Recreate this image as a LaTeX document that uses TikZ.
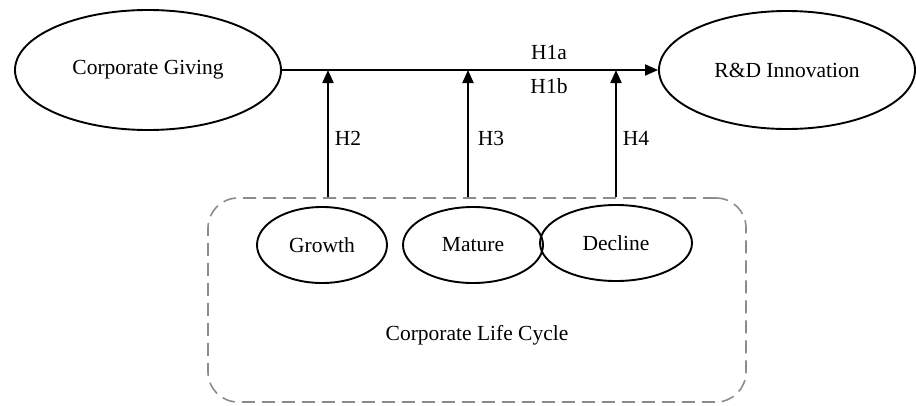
\documentclass[tikz,border=0pt]{standalone}
\usepackage{fontspec}
\setmainfont{Liberation Serif}
\usetikzlibrary{shapes.geometric,arrows.meta}
\begin{document}
\begin{tikzpicture}[x=1pt,y=-1pt,
  every node/.style={font=\fontsize{21.5}{25}\selectfont},
  oval/.style={ellipse,draw,line width=1.9pt,inner sep=0pt},
  arr/.style={line width=1.9pt,-{Triangle[length=13pt,width=11pt]}},
  lbl/.style={inner sep=0pt}]
\useasboundingbox (0,0) rectangle (916,405);
\node[oval,minimum width=266pt,minimum height=120pt] (cg) at (148,70) {Corporate Giving};
\node[oval,minimum width=256pt,minimum height=118pt] (rd) at (787,70) {R\&D Innovation};
\node[draw=black!45,line width=1.6pt,dash pattern=on 13pt off 7pt,rounded corners=30pt,
  minimum width=538pt,minimum height=204pt,inner sep=0pt] (box) at (477,300) {};
\node[oval,minimum width=130pt,minimum height=76pt] (gr) at (322,245) {Growth};
\node[oval,minimum width=140pt,minimum height=76pt] (ma) at (473,245) {Mature};
\node[oval,minimum width=152pt,minimum height=76pt] (de) at (616,243) {Decline};
\node[lbl] (lc) at (477,335) {Corporate Life Cycle};
\draw[arr] (cg.east) -- (rd.west);
\coordinate (j2) at (328,70);
\coordinate (j3) at (468,70);
\coordinate (j4) at (616,70);
\draw[arr] (box.north -| j2) -- (j2);
\draw[arr] (box.north -| j3) -- (j3);
\draw[arr] (box.north -| j4) -- (j4);
\node[lbl] (h1a) at (549,53) {H1a};
\node[lbl] (h1b) at (549,86) {H1b};
\node[lbl] (h2) at (348,138) {H2};
\node[lbl] (h3) at (491,138) {H3};
\node[lbl] (h4) at (636,138) {H4};
\end{tikzpicture}
\end{document}
